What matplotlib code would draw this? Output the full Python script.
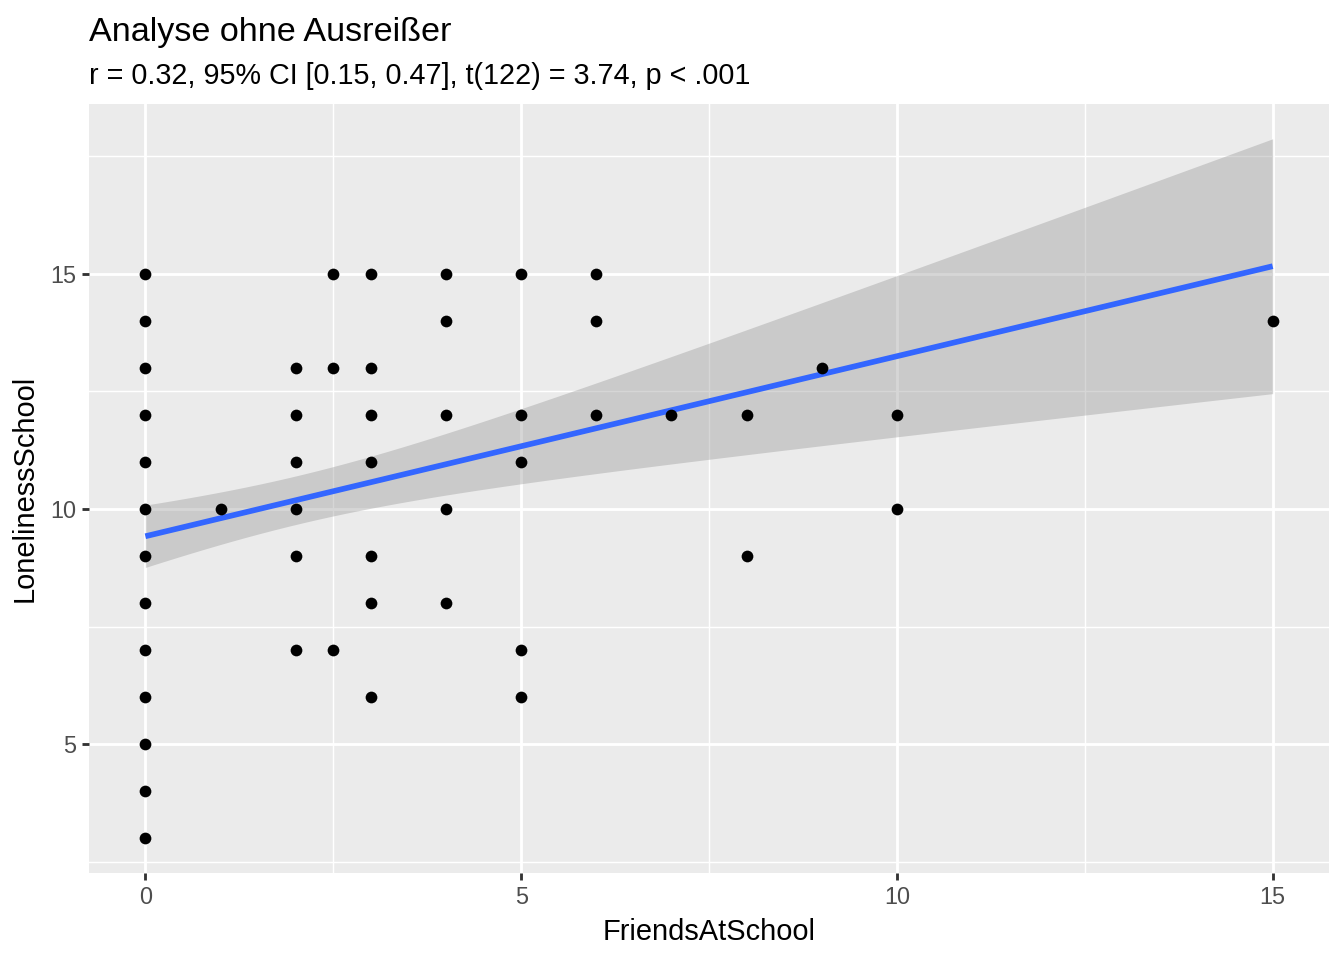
"""Scatter FriendsAtSchool vs LonelinessSchool, outliers removed, with lm fit + 95% band
(ggplot2 theme_grey look)."""

import numpy as np
import matplotlib
matplotlib.use("Agg")
import matplotlib.pyplot as plt
from matplotlib.ticker import MultipleLocator


friends = [0] * 13 + [1] + [2] * 6 + [2.5] * 3 + [3] * 7 + [4] * 5 + [5] * 5 \
    + [6] * 3 + [7] + [8] * 2 + [9] + [10] * 2 + [15]
loneliness = [15, 14, 13, 12, 11, 10, 9, 8, 7, 6, 5, 4, 3] + [10] \
    + [13, 12, 11, 10, 9, 7] + [15, 13, 7] + [15, 13, 12, 11, 9, 8, 6] \
    + [15, 14, 12, 10, 8] + [15, 12, 11, 7, 6] + [15, 14, 12] + [12] \
    + [12, 9] + [13] + [12, 10] + [14]

# fitted lm line and confidence band
fit_intercept = 9.42
fit_slope = 0.383
x_mean = 2.03
ci_half_at_mean = 0.516
ci_spread = 0.0421   # growth of squared half-width per squared unit from the mean

title = "Analyse ohne Ausreißer"
subtitle = "r = 0.32, 95% CI [0.15, 0.47], t(122) = 3.74, p < .001"
x_label = "FriendsAtSchool"
y_label = "LonelinessSchool"

plt.rcParams["font.family"] = ["Liberation Sans", "DejaVu Sans"]

fig = plt.figure(figsize=(7, 5), dpi=192)
ax = fig.add_axes([89 / 1344, 1 - 873 / 960, (1329 - 89) / 1344, (873 - 104) / 960])

ax.set_facecolor("#EBEBEB")
for s in ax.spines.values():
    s.set_visible(False)

xs = np.linspace(min(friends), max(friends), 80)
yhat = fit_intercept + fit_slope * xs
half = np.sqrt(ci_half_at_mean ** 2 + ci_spread * (xs - x_mean) ** 2)
ax.fill_between(xs, yhat - half, yhat + half, color="#999999", alpha=0.4,
                linewidth=0, zorder=2)
ax.plot(xs, yhat, color="#3366FF", linewidth=2.13, solid_capstyle="butt", zorder=3)
ax.scatter(friends, loneliness, s=4.4 ** 2, color="black", linewidths=0, zorder=4)

ax.set_xlim(-0.75, 15.75)
ax.set_ylim(2.256, 18.616)
ax.xaxis.set_major_locator(MultipleLocator(5))
ax.yaxis.set_major_locator(MultipleLocator(5))
ax.xaxis.set_minor_locator(MultipleLocator(2.5))
ax.yaxis.set_minor_locator(MultipleLocator(2.5))
ax.grid(which="major", color="white", linewidth=1.07, zorder=1)
ax.grid(which="minor", color="white", linewidth=0.53, zorder=1)
ax.set_axisbelow(True)

ax.tick_params(which="major", length=2.75, width=1.07, color="#333333",
               labelcolor="#4D4D4D", labelsize=8.8, pad=2.2)
ax.tick_params(which="minor", length=0)

ax.set_xlabel(x_label, fontsize=10.9, labelpad=3.2)
ax.set_ylabel(y_label, fontsize=10.9, labelpad=4.2)

fig.text(89 / 1344, 1 - 40.5 / 960, title, fontsize=12.8, ha="left", va="baseline")
fig.text(89 / 1344, 1 - 84 / 960, subtitle, fontsize=10.8, ha="left", va="baseline")

fig.savefig("out.png", dpi=192)
